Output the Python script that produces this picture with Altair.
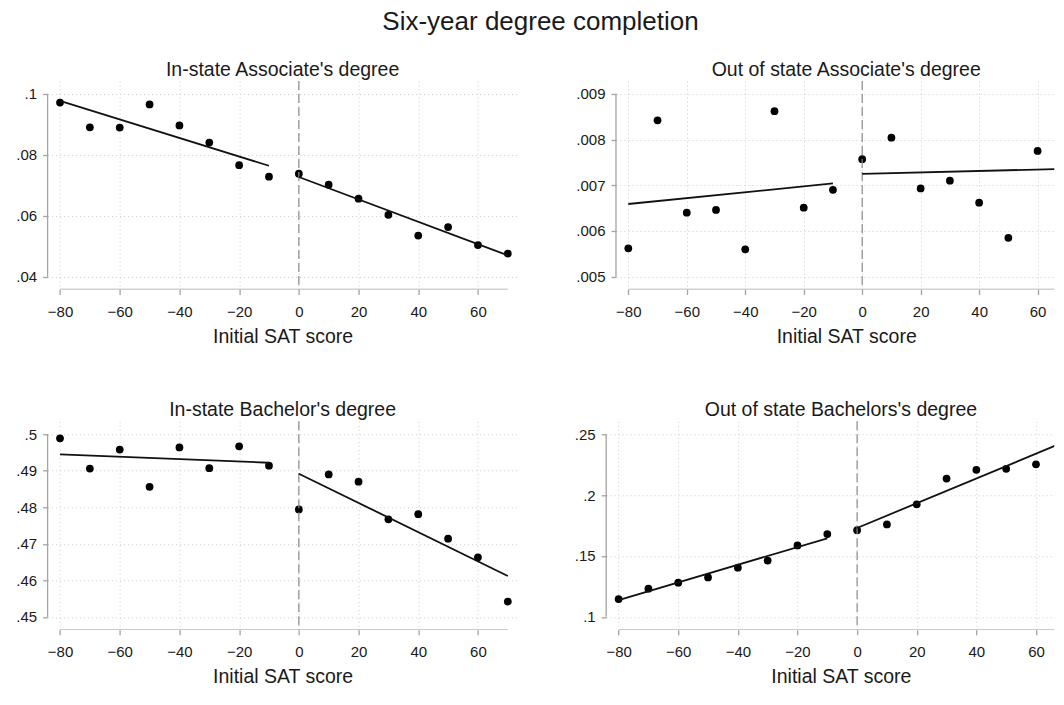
import altair as alt
import pandas as pd

# ---------------- data ----------------
sat = [-80, -70, -60, -50, -40, -30, -20, -10, 0, 10, 20, 30, 40, 50, 60, 70]

in_assoc = [0.0971, 0.0890, 0.0889, 0.0965, 0.0896, 0.0840, 0.0766, 0.0728,
            0.0738, 0.0702, 0.0656, 0.0603, 0.0535, 0.0563, 0.0504, 0.0476]
out_assoc = [0.00562, 0.00842, 0.00640, 0.00646, 0.00560, 0.00862, 0.00651, 0.00690,
             0.00757, 0.00804, 0.00693, 0.00710, 0.00662, 0.00585, 0.00775, 0.00849]
in_bach = [0.4989, 0.4906, 0.4958, 0.4856, 0.4964, 0.4907, 0.4967, 0.4914,
           0.4794, 0.4890, 0.4870, 0.4767, 0.4781, 0.4714, 0.4663, 0.4542]
out_bach = [0.1146, 0.1231, 0.1281, 0.1324, 0.1404, 0.1462, 0.1587, 0.1680,
            0.1712, 0.1759, 0.1924, 0.2136, 0.2208, 0.2216, 0.2253, 0.2447]

# fitted line segments (left of cutoff, right of cutoff)
fit_x0 = [-80, 0]
fit_x1 = [-10, 70]
in_assoc_fit0 = [0.0977, 0.0727]
in_assoc_fit1 = [0.0764, 0.0470]
out_assoc_fit0 = [0.00659, 0.00725]
out_assoc_fit1 = [0.00704, 0.00736]
in_bach_fit0 = [0.4945, 0.4892]
in_bach_fit1 = [0.4922, 0.4612]
out_bach_fit0 = [0.1138, 0.1730]
out_bach_fit1 = [0.1645, 0.2442]

x_ticks = [-80, -60, -40, -20, 0, 20, 40, 60]
in_assoc_ticks = [0.04, 0.06, 0.08, 0.1]
out_assoc_ticks = [0.005, 0.006, 0.007, 0.008, 0.009]
in_bach_ticks = [0.45, 0.46, 0.47, 0.48, 0.49, 0.5]
out_bach_ticks = [0.1, 0.15, 0.2, 0.25]

cutoff = [0]

main_title = "Six-year degree completion"
titles = ["In-state Associate's degree", "Out of state Associate's degree",
          "In-state Bachelor's degree", "Out of state Bachelors's degree"]
x_title = "Initial SAT score"

FONT = "Liberation Sans"
TXT = "#1a1a1a"
AXC = "#a3a3a3"


def panel(title, vals, f0, f1, yticks, xdom, ydom, w, h, full_w):
    pts_df = pd.DataFrame({"sat": sat, "val": vals})
    fit_df = pd.DataFrame({"x0": fit_x0, "x1": fit_x1, "y0": f0, "y1": f1})
    xs = alt.Scale(domain=xdom, nice=False, zero=False)
    ys = alt.Scale(domain=ydom, nice=False, zero=False)

    xaxis = alt.Axis(values=x_ticks, title=x_title, domain=False, grid=True,
                     gridColor="#cccccc", gridDash=[1, 3], gridWidth=1,
                     tickSize=5, tickColor=AXC, tickWidth=1.3,
                     labelFontSize=15, labelPadding=10, labelFlush=False,
                     labelColor=TXT, labelFont=FONT,
                     titleFontSize=19.5, titleFontWeight="normal", titleFont=FONT,
                     titleColor=TXT, titlePadding=8, titleX=full_w / 2,
                     titleAlign="center")
    yaxis = alt.Axis(values=yticks, title=None, domain=False, grid=True,
                     gridColor="#cccccc", gridDash=[1, 3], gridWidth=1,
                     tickSize=5, tickColor=AXC, tickWidth=1.3,
                     labelFontSize=15, labelPadding=6, labelFlush=False,
                     labelColor=TXT, labelFont=FONT,
                     labelExpr="substring(format(datum.value, '.3~f'), 1)")

    def X(f):
        return alt.X(f, scale=xs, axis=xaxis, title=x_title)

    def Y(f):
        return alt.Y(f, scale=ys, axis=yaxis, title=None)

    points = alt.Chart(pts_df).mark_circle(size=60, color="black", opacity=1,
                                           clip=True).encode(
        x=X("sat:Q"), y=Y("val:Q"),
    )
    vline = alt.Chart(pd.DataFrame({"c": cutoff})).mark_rule(
        color="#8a8a8a", strokeWidth=1.2, strokeDash=[9, 4]
    ).encode(x=X("c:Q"))
    yline = alt.Chart(pd.DataFrame({"a": [min(yticks)], "b": [max(yticks)]})).mark_rule(
        color=AXC, strokeWidth=1.3
    ).encode(x=alt.value(0), y=Y("a:Q"), y2="b:Q")
    xline = alt.Chart(pd.DataFrame({"a": [sat[0]], "b": [sat[-1]]})).mark_rule(
        color=AXC, strokeWidth=1.3, clip=True
    ).encode(y=alt.value(h), x=X("a:Q"), x2="b:Q")
    fits = alt.Chart(fit_df).mark_rule(color="#111111", strokeWidth=1.8,
                                       clip=True).encode(
        x=X("x0:Q"), x2="x1:Q", y=Y("y0:Q"), y2="y1:Q",
    )
    return alt.layer(points, vline, yline, xline, fits).properties(
        width=w, height=h,
        title=alt.TitleParams(title, fontSize=19.5, font=FONT, fontWeight="normal",
                              color=TXT, anchor="middle", offset=0,
                              dx=(full_w - w) / 2),
    )


H = 208.5
# left panels: full plot region; right panels: region cut at the right page edge
p1 = panel(titles[0], in_assoc, in_assoc_fit0, in_assoc_fit1, in_assoc_ticks,
           [-84.16, 73.28], [0.03581, 0.10419], 470, H, 470)
p2 = panel(titles[1], out_assoc, out_assoc_fit0, out_assoc_fit1, out_assoc_ticks,
           [-84.21, 65.71], [0.0047207, 0.0092793], 438.3, H, 460.4)
p3 = panel(titles[2], in_bach, in_bach_fit0, in_bach_fit1, in_bach_ticks,
           [-84.16, 73.28], [0.446455, 0.503545], 470, H, 470)
p4 = panel(titles[3], out_bach, out_bach_fit0, out_bach_fit1, out_bach_ticks,
           [-84.16, 66.14], [0.089365, 0.260635], 448.1, H, 469.4)

row1 = alt.hconcat(p1, p2, spacing=98.4, bounds="flush")
row2 = alt.hconcat(p3, p4, spacing=88.6, bounds="flush")

chart = alt.vconcat(
    row1, row2, spacing=53.3,
    title=alt.TitleParams(main_title, fontSize=26, font=FONT, fontWeight="normal",
                          color=TXT, anchor="middle", offset=25.3, dx=5.5),
).properties(
    padding={"left": 7.6, "top": 0, "right": 0, "bottom": 0},
    background="white",
).configure_view(stroke=None)

chart.save("out.html", embed_options={"renderer": "svg", "actions": False})
